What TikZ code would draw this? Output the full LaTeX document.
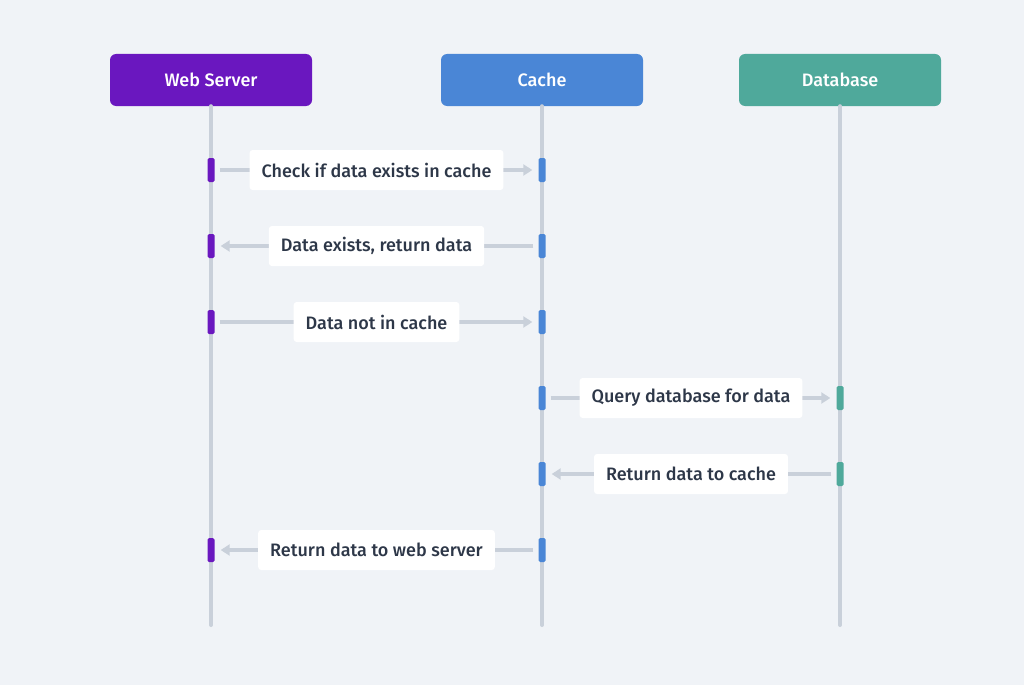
\documentclass[tikz,border=0pt]{standalone}
\usepackage{fontspec}
\setmainfont{Fira Sans}
\newfontfamily\medfont{Fira Sans Medium}
\usetikzlibrary{arrows.meta,positioning}

\definecolor{bgcol}{HTML}{F0F3F7}
\definecolor{linecol}{HTML}{C9D0DA}
\definecolor{txtcol}{HTML}{2D3748}
\definecolor{wscol}{HTML}{6A17BF}
\definecolor{cacol}{HTML}{4A86D6}
\definecolor{dbcol}{HTML}{4FA99B}

\tikzset{
	actor/.style={rounded corners=6pt,minimum width=202pt,minimum height=52pt,
		text=white,font=\fontsize{18}{21}\medfont,inner sep=0pt},
	life/.style={linecol,line width=4pt,line cap=round},
	bar/.style={rounded corners=1.5pt,minimum width=7pt,minimum height=24pt,inner sep=0pt},
	msg/.style={linecol,line width=4pt,-{Triangle[length=9pt,width=11pt]},
		shorten >=6pt,shorten <=5pt},
	lbl/.style={fill=white,rounded corners=3pt,minimum height=40pt,inner xsep=12pt,
		text=txtcol,font=\fontsize{18}{21}\medfont}
}

\begin{document}
\begin{tikzpicture}[x=1pt,y=-1pt]
	\useasboundingbox[fill=bgcol] (0,0) rectangle (1024,685);

	% participants
	\node[actor,fill=wscol] (ws) at (211,80) {Web Server};
	\node[actor,fill=cacol] (ca) at (542,80) {Cache};
	\node[actor,fill=dbcol] (db) at (840,80) {Database};

	\coordinate (wsend) at (211,625);
	\coordinate (caend) at (542,625);
	\coordinate (dbend) at (840,625);
	\foreach \p in {ws,ca,db}
		\draw[life] (\p.south) -- (\p end);

	% messages
	\foreach \s/\t/\y/\txt [count=\i] in {
			ws/ca/170/Check if data exists in cache,
			ca/ws/246/{Data exists, return data},
			ws/ca/322/Data not in cache,
			ca/db/398/Query database for data,
			db/ca/474/Return data to cache,
			ca/ws/550/Return data to web server
		}{
		\node[bar,fill=\s col] (a\i) at (\s.center |- 0,\y) {};
		\node[bar,fill=\t col] (b\i) at (\t.center |- 0,\y) {};
		\draw[msg] (a\i) -- (b\i);
		\path (a\i) -- node[lbl]{\txt} (b\i);
	}
\end{tikzpicture}
\end{document}
